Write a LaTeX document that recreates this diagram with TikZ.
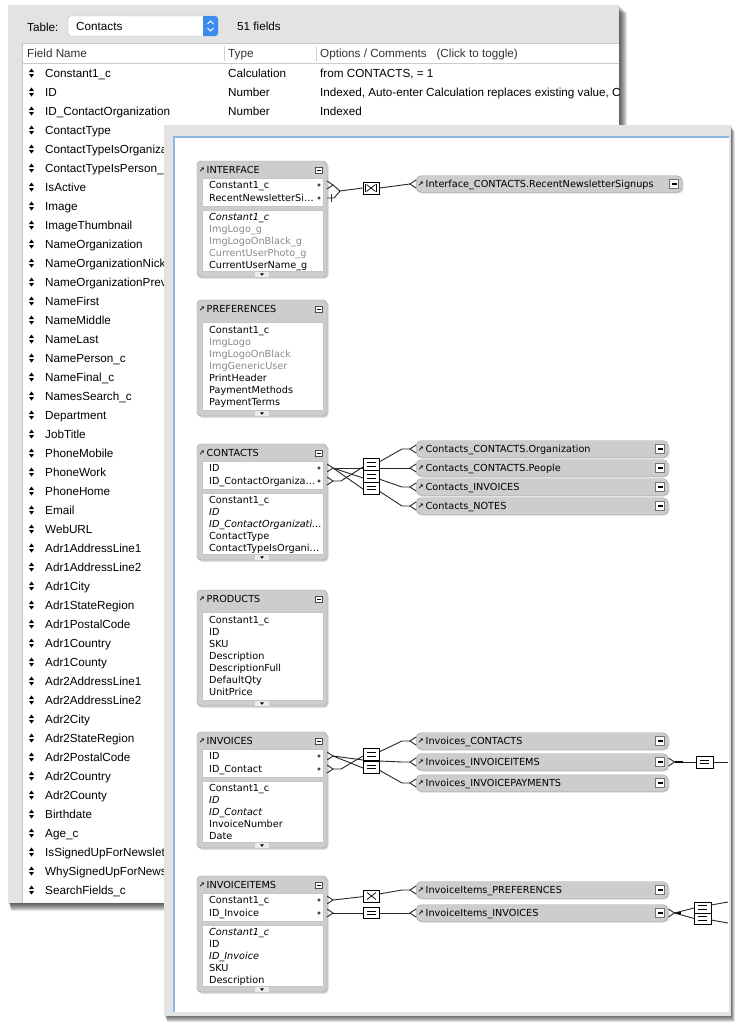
\documentclass[tikz,border=0pt]{standalone}
\usepackage{fontspec}
\setmainfont{Liberation Sans}
\newfontfamily\fmfont{DejaVu Sans}
\usetikzlibrary{calc}
\definecolor{winGray}{HTML}{E3E3E3}
\definecolor{hdrGray}{HTML}{CDCDCD}
\definecolor{boxEdge}{HTML}{989898}
\definecolor{winBlue}{HTML}{8EB6E4}
\definecolor{popBlue}{HTML}{3C8BF0}
\definecolor{dimText}{HTML}{8A8A8A}
\newcommand\crowL[2]{\draw[conn] (#1,#2-4) -- (#1+6,#2) -- (#1,#2+4);}
\newcommand\crowR[2]{\draw[conn] (#1,#2-4) -- (#1-6,#2) -- (#1,#2+4);}
\newcommand\eqsym[2]{\draw[line width=0.8pt] (#1-4.5,#2-1.8) -- (#1+4.5,#2-1.8) (#1-4.5,#2+1.8) -- (#1+4.5,#2+1.8);}
\newcommand\xsym[2]{\draw[line width=0.7pt] (#1-4.5,#2-3.5) -- (#1+4.5,#2+3.5) (#1-4.5,#2+3.5) -- (#1+4.5,#2-3.5);}
\newcommand\fmtable[3]{%
  \fill[black,opacity=0.18,rounded corners=4] (198,#2+1.5) rectangle (328.5,#2+117.5);
  \node[tbl] (#1) at (262,#2+58) {};
  \node[icon] (#1-a) at (201.8,#2+9) {↗};
  \node[fld] (#1-t) at (206.5,#2+9) {#3};
  \draw[black!70, fill=white, line width=0.5pt] (315.5,#2+6) rectangle (322.5,#2+12);
  \draw[line width=0.8pt] (317,#2+9) -- (321,#2+9);
  \fill[gray!15] (255,#2+111) rectangle (269,#2+116);
  \fill (260,#2+112.3) -- (264,#2+112.3) -- (262,#2+114.8) -- cycle;
}
\newcommand\fmarea[2]{\fill[white, draw=gray!45, line width=0.4pt] (202,#1) rectangle (323,#2);}
\newcommand\fmdot[1]{\draw[line width=0.5pt] (319,#1) circle (1.2);}
\newcommand\fmocc[5]{%
  \fill[black,opacity=0.15,rounded corners=5] (#2+1,#4-7) rectangle (#2+#3+1.5,#4+9.5);
  \node[occ, minimum width=#3pt] (#1) at ({#2+#3/2},#4) {};
  \node[icon] (#1-a) at (#2+4.8,#4) {↗};
  \node[fld] (#1-l) at (#2+9.5,#4) {#5};
  \draw[black!55, fill=white, line width=0.5pt] ({#2+#3-12.5},#4-4.5) rectangle ({#2+#3-3.5},#4+4.5);
  \fill ({#2+#3-10.5},#4-1.1) rectangle ({#2+#3-5.5},#4+1.1);
}
\begin{document}
\begin{tikzpicture}[x=1pt,y=-1pt,
  lst/.style={anchor=base west, inner sep=0, yshift=-4.2pt, font=\fontsize{11.7}{13}\selectfont},
  fld/.style={anchor=base west, inner sep=0, yshift=-3.5pt, font=\fmfont\fontsize{9.7}{11}\selectfont},
  fldi/.style={fld, font=\fmfont\itshape\fontsize{9.7}{11}\selectfont},
  fldg/.style={fld, text=dimText},
  icon/.style={inner sep=0, font=\fmfont\bfseries\fontsize{7}{7}\selectfont},
  tbl/.style={draw=boxEdge, fill=hdrGray, rounded corners=4, minimum width=130pt, minimum height=116pt, inner sep=0},
  occ/.style={draw=boxEdge, fill=hdrGray, rounded corners=5, minimum height=16.5pt, inner sep=0},
  opbox/.style={draw=black, fill=white, line width=0.8pt, inner sep=0, minimum width=16pt, minimum height=12pt},
  conn/.style={line width=0.9pt, draw=black!85}
]
\useasboundingbox (0,0) rectangle (735,1023);
\fill[white] (0,0) rectangle (735,1023);

% ---------- back window ----------
\foreach \d in {1,...,8} {\fill[black,opacity=0.11] (8+\d*0.4,5+\d) rectangle (619+\d,903+\d);}
\fill[winGray] (8,5) rectangle (619,903);
\fill[white] (22,43) rectangle (619,903);
\draw[gray!45, line width=0.5pt] (22,903) -- (22,43) -- (619,43);
\draw[gray!40, line width=0.6pt] (22,63.5) -- (619,63.5);
\draw[gray!35] (224,46) -- (224,61) (316,46) -- (316,61);
\draw[gray!55, fill=white, rounded corners=3] (68,16) rectangle (218,36);
\fill[popBlue, rounded corners=3] (203,16) rectangle (218,36);
\fill[popBlue] (203,16) rectangle (207,36);
\draw[white, line width=0.9pt] (207.5,24) -- (210.5,21) -- (213.5,24) (207.5,28) -- (210.5,31) -- (213.5,28);
\node[lst] (tbllab) at (27,27) {Table:};
\node[lst] (tblval) at (76,26) {Contacts};
\node[lst] (nfields) at (237,26) {51 fields};
\begin{scope}
\clip (22,43) rectangle (619,903);
\node[lst, text=black!80] (hFN) at (27,53) {Field Name};
\node[lst, text=black!80] (hTY) at (228,53) {Type};
\node[lst, text=black!80] (hOC) at (320,53) {Options / Comments \ \ (Click to toggle)};
\foreach \t [count=\k from 0] in {Constant1\_c,ID,ID\_ContactOrganization,ContactType,ContactTypeIsOrganiza,ContactTypeIsPerson\_c,IsActive,Image,ImageThumbnail,NameOrganization,NameOrganizationNick,NameOrganizationPrev,NameFirst,NameMiddle,NameLast,NamePerson\_c,NameFinal\_c,NamesSearch\_c,Department,JobTitle,PhoneMobile,PhoneWork,PhoneHome,Email,WebURL,Adr1AddressLine1,Adr1AddressLine2,Adr1City,Adr1StateRegion,Adr1PostalCode,Adr1Country,Adr1County,Adr2AddressLine1,Adr2AddressLine2,Adr2City,Adr2StateRegion,Adr2PostalCode,Adr2Country,Adr2County,Birthdate,Age\_c,IsSignedUpForNewslet,WhySignedUpForNews,SearchFields\_c}{
  \pgfmathsetmacro\yy{73+19*\k}
  \node[lst] (row\k) at (45,\yy) {\t};
  \fill (29,\yy-1) -- (31.5,\yy-4.5) -- (34,\yy-1) -- cycle;
  \fill (29,\yy+1) -- (31.5,\yy+4.5) -- (34,\yy+1) -- cycle;
}
\node[lst] (ty0) at (228,73) {Calculation};
\node[lst] (ty1) at (228,92) {Number};
\node[lst] (ty2) at (228,111) {Number};
\node[lst] (ty3) at (228,130) {Text};
\node[lst] (op0) at (320,73) {from CONTACTS, = 1};
\node[lst] (op1) at (320,92) {Indexed, Auto-enter Calculation replaces existing value, C};
\node[lst] (op2) at (320,111) {Indexed};
\node[lst] (op3) at (320,130) {Indexed};
\end{scope}

% ---------- front window ----------
\foreach \d in {1,...,6} {\fill[black,opacity=0.12] (164+\d*0.5,125+\d) rectangle (731+\d*0.6,1016+\d);}
\fill[winGray] (164,125) rectangle (731,1016);
\fill[white] (175,138) rectangle (729,1012);
\draw[winBlue, line width=2pt] (174,1012) -- (174,137) -- (729,137);

% ---------- INTERFACE ----------
\fmtable{tIF}{161}{INTERFACE}
\fmarea{178}{206}\fmarea{210}{271}
\node[fld] (ifF1) at (209,185) {Constant1\_c}; \fmdot{185}
\node[fld] (ifF2) at (209,198) {RecentNewsletterSi…}; \fmdot{198}
\node[fldi] (ifG1) at (209,217) {Constant1\_c};
\node[fldg] (ifG2) at (209,229) {ImgLogo\_g};
\node[fldg] (ifG3) at (209,241) {ImgLogoOnBlack\_g};
\node[fldg] (ifG4) at (209,253) {CurrentUserPhoto\_g};
\node[fld] (ifG5) at (209,265) {CurrentUserName\_g};

% ---------- PREFERENCES ----------
\fmtable{tPR}{300}{PREFERENCES}
\fmarea{322}{410}
\node[fld] (prF1) at (209,330) {Constant1\_c};
\node[fldg] (prF2) at (209,342) {ImgLogo};
\node[fldg] (prF3) at (209,354) {ImgLogoOnBlack};
\node[fldg] (prF4) at (209,366) {ImgGenericUser};
\node[fld] (prF5) at (209,378) {PrintHeader};
\node[fld] (prF6) at (209,390) {PaymentMethods};
\node[fld] (prF7) at (209,402) {PaymentTerms};

% ---------- CONTACTS ----------
\fmtable{tCT}{444}{CONTACTS}
\fmarea{461}{489}\fmarea{493}{554}
\node[fld] (ctF1) at (209,468) {ID}; \fmdot{468}
\node[fld] (ctF2) at (209,481) {ID\_ContactOrganiza…}; \fmdot{481}
\node[fld] (ctG1) at (209,500) {Constant1\_c};
\node[fldi] (ctG2) at (209,512) {ID};
\node[fldi] (ctG3) at (209,524) {ID\_ContactOrganizati…};
\node[fld] (ctG4) at (209,536) {ContactType};
\node[fld] (ctG5) at (209,548) {ContactTypeIsOrgani…};

% ---------- PRODUCTS ----------
\fmtable{tPD}{590}{PRODUCTS}
\fmarea{612}{700}
\node[fld] (pdF1) at (209,620) {Constant1\_c};
\node[fld] (pdF2) at (209,632) {ID};
\node[fld] (pdF3) at (209,644) {SKU};
\node[fld] (pdF4) at (209,656) {Description};
\node[fld] (pdF5) at (209,668) {DescriptionFull};
\node[fld] (pdF6) at (209,680) {DefaultQty};
\node[fld] (pdF7) at (209,692) {UnitPrice};

% ---------- INVOICES ----------
\fmtable{tIV}{732}{INVOICES}
\fmarea{749}{777}\fmarea{781}{842}
\node[fld] (ivF1) at (209,756) {ID}; \fmdot{756}
\node[fld] (ivF2) at (209,769) {ID\_Contact}; \fmdot{769}
\node[fld] (ivG1) at (209,788) {Constant1\_c};
\node[fldi] (ivG2) at (209,800) {ID};
\node[fldi] (ivG3) at (209,812) {ID\_Contact};
\node[fld] (ivG4) at (209,824) {InvoiceNumber};
\node[fld] (ivG5) at (209,836) {Date};

% ---------- INVOICEITEMS ----------
\fmtable{tII}{876}{INVOICEITEMS}
\fmarea{893}{921}\fmarea{925}{986}
\node[fld] (iiF1) at (209,900) {Constant1\_c}; \fmdot{900}
\node[fld] (iiF2) at (209,913) {ID\_Invoice}; \fmdot{913}
\node[fldi] (iiG1) at (209,932) {Constant1\_c};
\node[fld] (iiG2) at (209,944) {ID};
\node[fldi] (iiG3) at (209,956) {ID\_Invoice};
\node[fld] (iiG4) at (209,968) {SKU};
\node[fld] (iiG5) at (209,980) {Description};

% ---------- occurrences ----------
\fmocc{oIF}{416}{266}{184}{Interface\_CONTACTS.RecentNewsletterSignups}
\fmocc{oCO}{416}{252}{449}{Contacts\_CONTACTS.Organization}
\fmocc{oCP}{416}{252}{468}{Contacts\_CONTACTS.People}
\fmocc{oCI}{416}{252}{487}{Contacts\_INVOICES}
\fmocc{oCN}{416}{252}{506}{Contacts\_NOTES}
\fmocc{oIC}{416}{252}{741}{Invoices\_CONTACTS}
\fmocc{oII}{416}{252}{762}{Invoices\_INVOICEITEMS}
\fmocc{oIP}{416}{252}{783}{Invoices\_INVOICEPAYMENTS}
\fmocc{oXP}{416}{252}{890}{InvoiceItems\_PREFERENCES}
\fmocc{oXI}{416}{252}{913}{InvoiceItems\_INVOICES}

% ---------- connectors: INTERFACE ----------
\coordinate (ifJ) at (340,191);
\crowL{327}{185}
\draw[conn] (333,185) -- (ifJ);
\draw[conn] (331,194) -- (331,202);
\draw[conn] (327,198) -- (334,198) -- (ifJ);
\node[opbox] (ifop) at (371,188) {};
\xsym{371}{188}
\draw[line width=0.7pt] (365.5,184) -- (365.5,192) (376.5,184) -- (376.5,192);
\draw[conn] (ifJ) -- (ifop.west);
\draw[conn] (ifop.east) -- (410,184);
\crowR{416}{184}

% ---------- connectors: CONTACTS ----------
\crowL{327}{468}\crowL{327}{481}
\draw[conn] (333,481) -- (341,481) -- (363,467);
\draw[conn] (379,462) -- (402,449) -- (410,449);
\draw[conn] (333,468) -- (410,468);
\draw[conn] (333,468) -- (363,478);
\draw[conn] (379,479) -- (402,487) -- (410,487);
\draw[conn] (333,468) -- (363,489);
\draw[conn] (379,491) -- (402,506) -- (410,506);
\node[opbox] (ctq3) at (371,488) {}; \eqsym{371}{488}
\node[opbox] (ctq2) at (371,476.5) {}; \eqsym{371}{476.5}
\node[opbox] (ctq1) at (371,464.5) {}; \eqsym{371}{464.5}
\crowR{416}{449}\crowR{416}{468}\crowR{416}{487}\crowR{416}{506}

% ---------- connectors: INVOICES ----------
\crowL{327}{756}\crowL{327}{769}
\draw[conn] (333,769) -- (341,769) -- (363,756);
\draw[conn] (379,752) -- (402,741) -- (410,741);
\draw[conn] (333,756) -- (363,760) -- (379,761) -- (402,762) -- (410,762);
\draw[conn] (333,756) -- (363,768);
\draw[conn] (379,770) -- (402,783) -- (410,783);
\node[opbox] (ivq2) at (371,767) {}; \eqsym{371}{767}
\node[opbox] (ivq1) at (371,754.5) {}; \eqsym{371}{754.5}
\crowR{416}{741}\crowR{416}{762}\crowR{416}{783}
\crowL{668.5}{762}
\draw[conn] (674.5,762) -- (696,762);
\draw[line width=1.6pt] (674.5,762) -- (683,762);
\node[opbox, minimum width=17pt] (ivq3) at (704.5,762) {}; \eqsym{704.5}{762}
\draw[conn] (ivq3.east) -- (728,762);

% ---------- connectors: INVOICEITEMS ----------
\crowL{327}{900}\crowL{327}{913}
\draw[conn] (333,900) -- (364,896.5);
\draw[conn] (379,894) -- (402,890) -- (410,890);
\draw[conn] (333,913) -- (410,913);
\node[opbox] (iiq1) at (371.5,896) {}; \xsym{371.5}{896}
\node[opbox, minimum height=11pt] (iiq2) at (371.5,913) {}; \eqsym{371.5}{913}
\crowR{416}{890}\crowR{416}{913}
\crowL{668.5}{913}
\draw[line width=1.6pt] (674.5,913) -- (681,913);
\draw[conn] (674.5,913) -- (694,908) (674.5,913) -- (694,918.5);
\node[opbox, minimum width=17pt, minimum height=11pt] (iiq4) at (702.5,918.5) {}; \eqsym{702.5}{918.5}
\node[opbox, minimum width=17pt, minimum height=11pt] (iiq3) at (702.5,907.5) {}; \eqsym{702.5}{907.5}
\draw[conn] (711,905) -- (728,902);
\draw[conn] (711,920) -- (728,923);
\end{tikzpicture}
\end{document}
